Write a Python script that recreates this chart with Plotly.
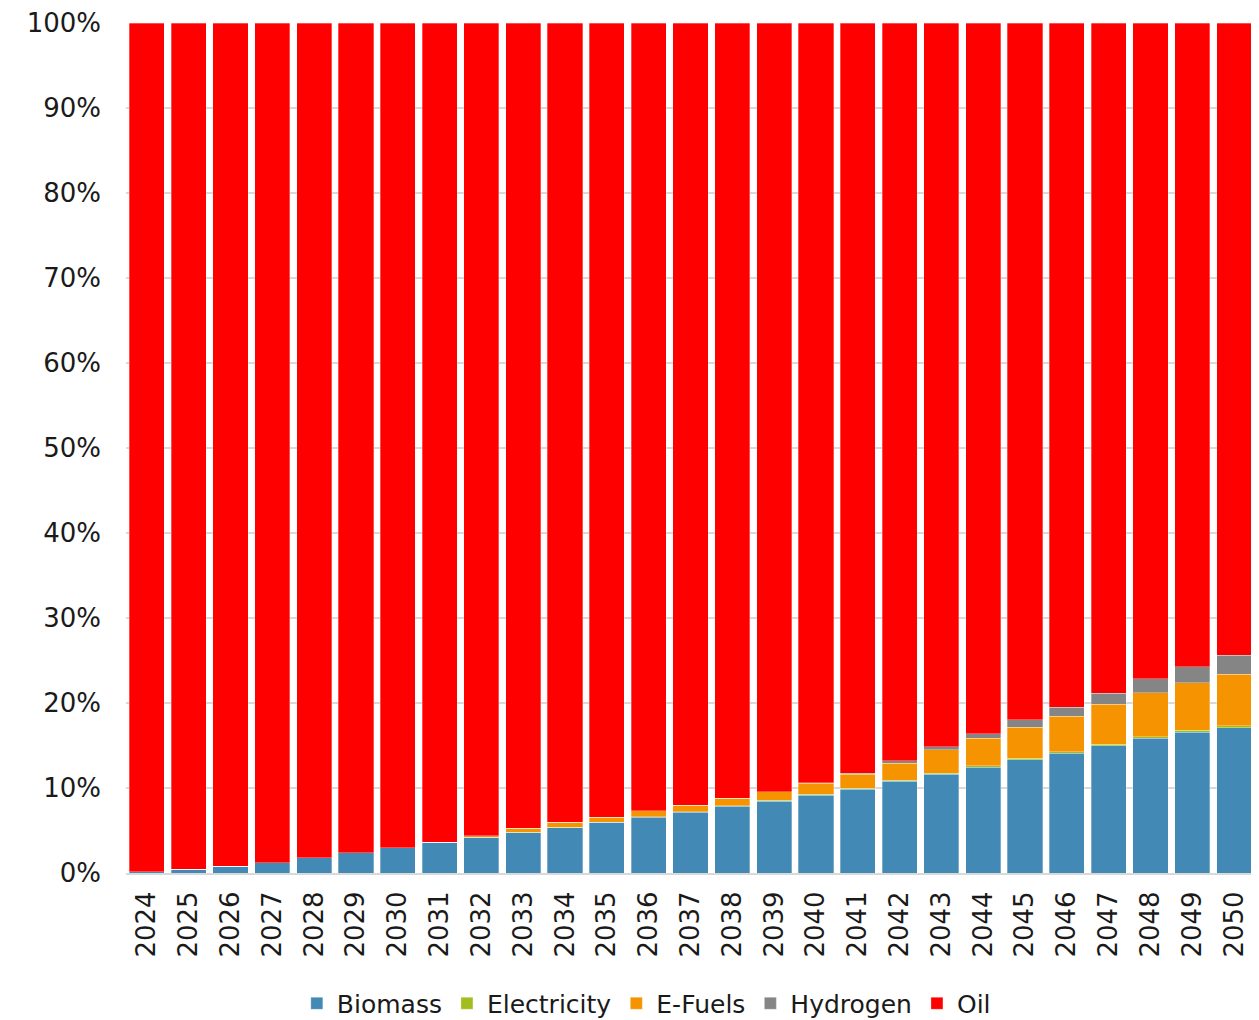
import plotly.graph_objects as go

# data (share of fuel, %) -----------------------------------------------------
years = [str(y) for y in range(2024, 2051)]
biomass = [0.16, 0.43, 0.78, 1.2, 1.8, 2.4, 3.0, 3.6, 4.2, 4.75, 5.35, 5.95,
           6.55, 7.15, 7.85, 8.45, 9.15, 9.85, 10.8, 11.6, 12.45, 13.35,
           14.1, 14.95, 15.85, 16.55, 17.1]
electricity = [0, 0, 0, 0, 0, 0, 0, 0, 0.02, 0.04, 0.05, 0.05, 0.06, 0.07,
               0.08, 0.09, 0.1, 0.1, 0.12, 0.13, 0.14, 0.15, 0.17, 0.18,
               0.2, 0.22, 0.25]
efuels = [0, 0, 0, 0, 0, 0, 0, 0, 0.18, 0.45, 0.55, 0.55, 0.7, 0.75, 0.85,
          1.0, 1.3, 1.65, 2.0, 2.75, 3.25, 3.65, 4.2, 4.7, 5.15, 5.6, 6.05]
hydrogen = [0, 0, 0, 0, 0, 0, 0, 0, 0, 0, 0, 0, 0, 0, 0, 0, 0.05, 0.15,
            0.3, 0.4, 0.55, 0.9, 1.05, 1.3, 1.65, 1.9, 2.2]
oil = [round(100 - b - e - f - h, 2)
       for b, e, f, h in zip(biomass, electricity, efuels, hydrogen)]

series = [
    ("Biomass", biomass, "#4389B5"),
    ("Electricity", electricity, "#A2BD1E"),
    ("E-Fuels", efuels, "#F59300"),
    ("Hydrogen", hydrogen, "#858585"),
    ("Oil", oil, "#FF0000"),
]

FONT = "'DejaVu Sans', sans-serif"

fig = go.Figure()
for name, vals, col in series:
    fig.add_trace(go.Bar(
        x=years, y=vals, name=name,
        marker=dict(color=col, line=dict(width=0.6, color="rgba(255,255,255,0.5)")),
    ))

# page body adds an 8px offset, margins are compensated for it
fig.update_layout(
    barmode="stack",
    bargap=0.16,
    width=1259, height=1020,
    margin=dict(l=118, r=12, t=15, b=155),
    plot_bgcolor="white",
    paper_bgcolor="white",
    font=dict(family=FONT, size=26, color="#1a1a1a"),
    legend=dict(
        orientation="h", x=0.507, xanchor="center", xref="container",
        y=0.024, yanchor="middle", yref="container",
        font=dict(size=25), traceorder="normal",
    ),
    showlegend=True,
)
fig.update_xaxes(
    tickangle=-90, showgrid=False, ticks="", automargin=False,
    showline=True, linecolor="#D9D9D9", linewidth=2,
    tickfont=dict(size=26), ticklabelstandoff=6,
)
fig.update_yaxes(
    range=[0, 100], dtick=10, ticksuffix="%", automargin=False,
    showgrid=True, gridcolor="#D9D9D9", gridwidth=2,
    zeroline=False, ticks="", tickfont=dict(size=26), ticklabelstandoff=24,
    ticklabeloverflow="allow",
)

fig.write_html("out.html")
